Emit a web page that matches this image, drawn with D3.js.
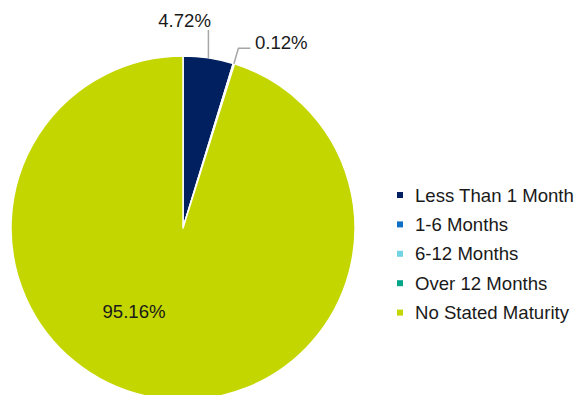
<!DOCTYPE html>
<html><head><meta charset="utf-8">
<script src="https://cdn.jsdelivr.net/npm/d3@7"></script>
<style>html,body{margin:0;padding:0;background:#fff;}svg{display:block;}</style>
</head><body>
<script>
const categories = ["Less Than 1 Month", "1-6 Months", "6-12 Months", "Over 12 Months", "No Stated Maturity"];
const values = [4.72, 0.12, 0, 0, 95.16];
const labels = ["4.72%", "0.12%", "", "", "95.16%"];
const colors = ["#002060", "#0E6FC6", "#72D4E2", "#00A68A", "#C4D600"];

const W = 587, H = 395;
const svg = d3.select("body").append("svg").attr("width", W).attr("height", H);
const cx = 183, cy = 228, R = 172;
const font = "'Liberation Sans', Arial, sans-serif";
const fs = 18.6;

const data = categories.map((c, i) => ({cat: c, value: values[i], label: labels[i], color: colors[i]}));
const pie = d3.pie().sort(null).value(d => d.value);
const arcs = pie(data);
const arc = d3.arc().innerRadius(0).outerRadius(R);

const g = svg.append("g").attr("transform", `translate(${cx},${cy})`);
g.selectAll("path").data(arcs.filter(a => a.data.value > 0)).join("path")
  .attr("d", arc).attr("fill", d => d.data.color)
  .attr("stroke", "#fff").attr("stroke-width", 1.5).attr("stroke-linejoin", "round");

const ptAt = (ang, r) => [r * Math.sin(ang), -r * Math.cos(ang)];
// 4.72% label
const a0 = arcs[0];
const m0 = (a0.startAngle + a0.endAngle) / 2;
const p0 = ptAt(m0, R);
g.append("line").attr("x1", p0[0]).attr("y1", p0[1]).attr("x2", p0[0]).attr("y2", p0[1] - 28)
  .attr("stroke", "#A6A6A6").attr("stroke-width", 1.5);
g.append("text").attr("x", p0[0] + 2.5).attr("y", p0[1] - 31).attr("text-anchor", "end")
  .attr("font-family", font).attr("font-size", fs).attr("fill", "#1a1a1a").text(a0.data.label);
// 0.12% label
const a1 = arcs[1];
const m1 = (a1.startAngle + a1.endAngle) / 2;
const p1 = ptAt(m1, R);
g.append("polyline").attr("points", [[p1[0], p1[1]], [p1[0] + 4.5, p1[1] - 15.5], [p1[0] + 16.5, p1[1] - 15.5]].map(p => p.join(",")).join(" "))
  .attr("fill", "none").attr("stroke", "#A6A6A6").attr("stroke-width", 1.5);
g.append("text").attr("x", p1[0] + 21).attr("y", p1[1] - 14.5).attr("text-anchor", "start")
  .attr("font-family", font).attr("font-size", fs).attr("fill", "#1a1a1a").text(a1.data.label);
// 95.16% label inside
const a4 = arcs[4];
g.append("text").attr("x", -49).attr("y", 90).attr("text-anchor", "middle")
  .attr("font-family", font).attr("font-size", fs).attr("fill", "#1a1a1a").text(a4.data.label);

// legend
const legY = d3.scalePoint().domain(categories).range([195, 312.6]);
const leg = svg.append("g");
const items = leg.selectAll("g").data(data).join("g")
  .attr("transform", d => `translate(400,${legY(d.cat)})`);
items.append("rect").attr("x", -3).attr("y", -3).attr("width", 6).attr("height", 6).attr("fill", d => d.color);
items.append("text").attr("x", 15).attr("y", 6.6)
  .attr("font-family", font).attr("font-size", fs).attr("fill", "#1a1a1a").text(d => d.cat);
</script>
</body></html>
